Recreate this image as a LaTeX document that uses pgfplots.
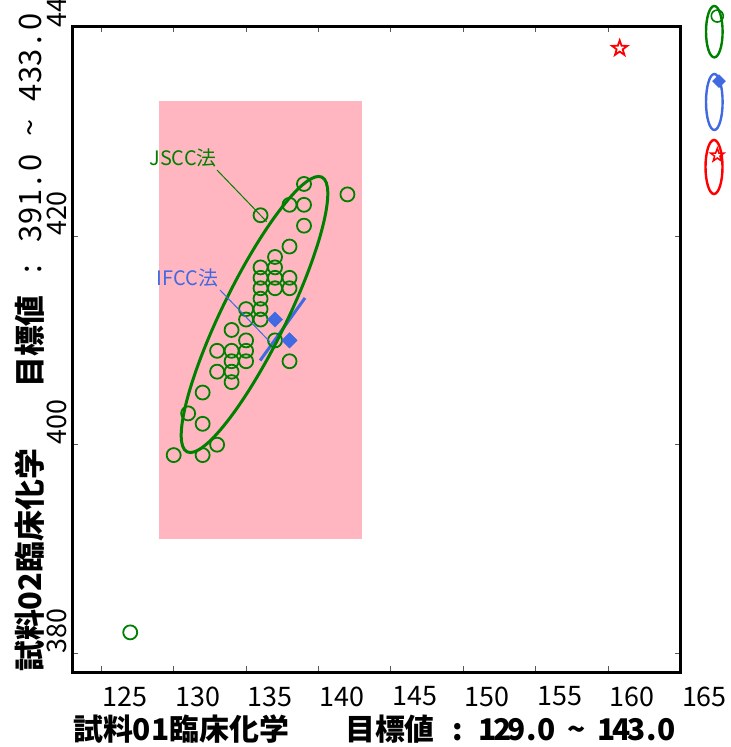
\documentclass[border=0pt]{standalone}
\usepackage{fontspec}
\setmainfont{Noto Sans CJK JP}
\usepackage{pgfplots}
\pgfplotsset{compat=1.18}

\definecolor{jgreen}{HTML}{008000}
\definecolor{jblue}{HTML}{4169E1}
\definecolor{jpink}{HTML}{FFB6C1}
\definecolor{jred}{HTML}{FF0000}

% half-width character cells
\newcommand\h[1]{\makebox[0.5em]{#1}}
\newcommand\hw[1]{\makebox[0.57em]{#1}}

% outlined five-pointed star
\pgfdeclareplotmark{starline}{%
  \pgfpathmoveto{\pgfpointpolar{90}{\pgfplotmarksize}}%
  \pgfpathlineto{\pgfpointpolar{126}{0.4\pgfplotmarksize}}%
  \pgfpathlineto{\pgfpointpolar{162}{\pgfplotmarksize}}%
  \pgfpathlineto{\pgfpointpolar{198}{0.4\pgfplotmarksize}}%
  \pgfpathlineto{\pgfpointpolar{234}{\pgfplotmarksize}}%
  \pgfpathlineto{\pgfpointpolar{270}{0.4\pgfplotmarksize}}%
  \pgfpathlineto{\pgfpointpolar{306}{\pgfplotmarksize}}%
  \pgfpathlineto{\pgfpointpolar{342}{0.4\pgfplotmarksize}}%
  \pgfpathlineto{\pgfpointpolar{18}{\pgfplotmarksize}}%
  \pgfpathlineto{\pgfpointpolar{54}{0.4\pgfplotmarksize}}%
  \pgfpathclose
  \pgfusepathqfillstroke}

\tikzset{px/.style={x=1bp, y=-1bp, shift={(-72.3bp,672bp)}}}

\begin{document}
\begin{tikzpicture}
\begin{axis}[
  scale only axis,
  width=608.2bp, height=645.5bp,
  xmin=123, xmax=165, ymin=378.2, ymax=440.1,
  xtick={125,130,...,165}, ytick={380,400,420,440},
  tick align=inside, major tick length=6bp,
  tick style={line width=0.8bp, black!65},
  axis line style={line width=3bp},
  clip=false,
  /pgf/number format/assume math mode=true,
  xticklabel style={anchor=north west, inner sep=0pt, xshift=1.3bp,
    font=\fontsize{27}{27}\selectfont},
  yticklabel style={rotate=90, anchor=south west, inner sep=0pt,
    font=\fontsize{27}{27}\selectfont},
  xticklabel shift=14.5bp,
  yticklabel shift=5bp,
]
% target range
\addplot[draw=none, fill=jpink] coordinates {(129,391) (143,391) (143,433) (129,433)} -- cycle;

% JSCC results
\addplot[only marks, mark=o, mark size=7bp, color=jgreen, mark options={line width=1.8bp}]
coordinates {
(127,382) (130,399) (132,399) (133,400) (132,402) (131,403) (132,405)
(134,406) (133,407) (134,407) (134,408) (135,408) (138,408) (133,409)
(134,409) (135,409) (135,410) (137,410) (134,411) (135,412) (136,412)
(135,413) (136,413) (136,414) (136,415) (137,415) (138,415) (136,416)
(137,416) (138,416) (136,417) (137,417) (137,418) (138,419) (139,421)
(136,422) (138,423) (139,423) (139,425) (142,424)
};

% IFCC axis line and results
\addplot[color=jblue, line width=3bp] coordinates {(135.97,408.07) (139.07,414.07)};
\addplot[only marks, mark=square*, mark size=5.4bp, color=jblue,
  mark options={rotate=45}] coordinates {(137,412) (138,410)};

% other method
\addplot[only marks, mark=starline, mark size=8bp, color=jred,
  mark options={line width=1.8bp, fill=white}] coordinates {(160.8,438)};

% key symbols on the right
\addplot[only marks, mark=o, mark size=6bp, color=jgreen, mark options={line width=1.6bp}]
  coordinates {(167.54,441.1)};
\addplot[only marks, mark=square*, mark size=4.6bp, color=jblue, mark options={rotate=45}]
  coordinates {(167.66,434.86)};
\addplot[only marks, mark=starline, mark size=7bp, color=jred,
  mark options={line width=1.5bp, fill=white}] coordinates {(167.54,427.75)};
\end{axis}

\begin{scope}[px]
  % JSCC ellipse
  \draw[jgreen, line width=3bp, rotate around={63.85:(254.5,314.5)}]
    (254.5,314.5) ellipse [x radius=153bp, y radius=32bp];
  % key ellipses
  \draw[jgreen, line width=2.4bp] (714.3,31.7) ellipse [x radius=8.3bp, y radius=25.7bp];
  \draw[jblue, line width=2.4bp] (714.3,102) ellipse [x radius=8.3bp, y radius=28bp];
  \draw[jred, line width=2.4bp] (714,167) ellipse [x radius=8.5bp, y radius=27bp];
  % callouts
  \draw[jgreen, line width=1bp] (217,170) -- (266.7,221.7);
  \node[jgreen, font=\fontsize{20}{20}\selectfont, inner sep=0pt] at (183,158) {JSCC法};
  \draw[jblue, line width=1bp] (220,290) -- (270,342);
  \node[jblue, font=\fontsize{20}{20}\selectfont, inner sep=0pt] at (187.5,277.5) {IFCC法};
  % axis titles
  \node[anchor=west, inner sep=0pt, font=\fontsize{30}{30}\selectfont\bfseries] at (73,729)
    {試料01臨床化学};
  \node[anchor=west, inner sep=0pt, font=\fontsize{30}{30}\selectfont\bfseries] at (345,729)
    {目標値\h{}\h{:}\h{}\h{1}\h{2}\h{9}\h{.}\h{0}\h{}\h{\char"7E}\h{}\h{1}\h{4}\h{3}\h{.}\h{0}};
  \node[rotate=90, anchor=west, inner sep=0pt, font=\fontsize{31}{31}\selectfont\bfseries] at (30,672)
    {試料02臨床化学};
  \node[rotate=90, anchor=west, inner sep=0pt, font=\fontsize{31}{31}\selectfont] at (30,388)
    {{\bfseries 目標値}\hw{}\hw{:}\hw{}\hw{3}\hw{9}\hw{1}\hw{.}\hw{0}\hw{}\hw{\char"7E}\hw{}\hw{4}\hw{3}\hw{3}\hw{.}\hw{0}};
\end{scope}

\pgfresetboundingbox
\begin{scope}[px]
  \path[use as bounding box] (0,0) rectangle (731,747);
\end{scope}
\end{tikzpicture}
\end{document}
